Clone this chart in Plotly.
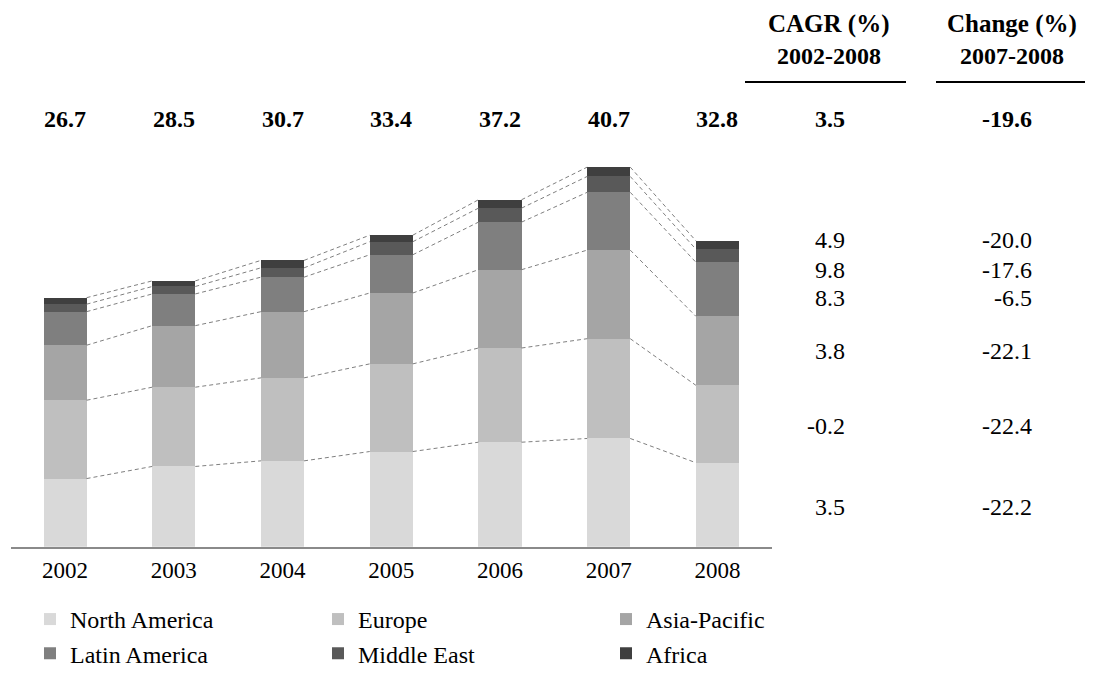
import plotly.graph_objects as go

# ---------------- data ----------------
years = ["2002", "2003", "2004", "2005", "2006", "2007", "2008"]
regions = ["North America", "Europe", "Asia-Pacific", "Latin America", "Middle East", "Africa"]
north_america = [7.3, 8.6, 9.2, 10.2, 11.2, 11.6, 9.0]
europe = [8.4, 8.5, 8.9, 9.4, 10.1, 10.7, 8.3]
asia_pacific = [5.9, 6.6, 7.1, 7.6, 8.4, 9.5, 7.4]
latin_america = [3.6, 3.4, 3.7, 4.1, 5.1, 6.2, 5.8]
middle_east = [0.8, 0.8, 1.0, 1.4, 1.5, 1.7, 1.4]
africa = [0.7, 0.6, 0.8, 0.7, 0.9, 1.0, 0.9]
totals = [26.7, 28.5, 30.7, 33.4, 37.2, 40.7, 32.8]
cagr_by_region = [3.5, -0.2, 3.8, 8.3, 9.8, 4.9]
change_by_region = [-22.2, -22.4, -22.1, -6.5, -17.6, -20.0]
cagr_total = 3.5
change_total = -19.6
header_cagr = ["CAGR (%)", "2002-2008"]
header_change = ["Change (%)", "2007-2008"]

# ---------------- styles ----------------
colors = ["#d9d9d9", "#bfbfbf", "#a5a5a5", "#7f7f7f", "#595959", "#3f3f3f"]
FONT = "Liberation Serif"
OFF = 8                       # page body margin
W, H = 1093 - OFF, 676 - OFF
BASE_PX = 554                 # screen row of the x axis line
PX_PER_UNIT = 9.452
YMAX = 44
X_LEFT, X_RIGHT = 10.7, 771.8
BARGAP = 0.604
label_shift = [-2, -2, 0, -9, -14, 5]   # de-overlap offsets for right-hand labels (px, + = up)


def fx(p):
    return (p - OFF) / W


def fy(p):
    return 1 - (p - OFF) / H


def tfont(size=23):
    return dict(family=FONT, size=size, color="black")


series = [north_america, europe, asia_pacific, latin_america, middle_east, africa]

fig = go.Figure()
for name, vals, col in zip(regions, series, colors):
    fig.add_trace(go.Bar(x=years, y=vals, name=name, marker=dict(color=col, line=dict(width=0))))

# cumulative tops for connectors
cum = []
run = [0.0] * len(years)
for vals in series:
    run = [a + b for a, b in zip(run, vals)]
    cum.append(list(run))

half = (1 - BARGAP) / 2
shapes = []
for level in cum:
    for i in range(len(years) - 1):
        shapes.append(dict(type="line", xref="x", yref="y",
                           x0=i + half, y0=level[i], x1=i + 1 - half, y1=level[i + 1],
                           line=dict(color="#7f7f7f", width=1, dash="4px,3px")))

# header underlines
shapes.append(dict(type="line", xref="paper", yref="paper", x0=fx(745), x1=fx(906),
                   y0=fy(83), y1=fy(83), line=dict(color="black", width=2)))
shapes.append(dict(type="line", xref="paper", yref="paper", x0=fx(936), x1=1,
                   y0=fy(83), y1=fy(83), line=dict(color="black", width=2)))

ann = []
# totals above bars
for i, t in enumerate(totals):
    ann.append(dict(x=i, xref="x", xanchor="center", y=fy(121), yref="paper", yanchor="middle",
                    text=f"<b>{t:.1f}</b>", showarrow=False, font=tfont(24)))
ann.append(dict(x=fx(847), xref="paper", xanchor="right", y=fy(121), yref="paper", yanchor="middle",
                text=f"<b>{cagr_total:.1f}</b>", showarrow=False, font=tfont(24)))
ann.append(dict(x=fx(1034), xref="paper", xanchor="right", y=fy(121), yref="paper", yanchor="middle",
                text=f"<b>{change_total:.1f}</b>", showarrow=False, font=tfont(24)))
# headers
for cx, lines in ((829, header_cagr), (1012, header_change)):
    ann.append(dict(x=fx(cx), xref="paper", xanchor="center", y=fy(24), yref="paper", yanchor="middle",
                    text=f"<b>{lines[0]}</b>", showarrow=False, font=tfont(25)))
    ann.append(dict(x=fx(cx), xref="paper", xanchor="center", y=fy(57), yref="paper", yanchor="middle",
                    text=f"<b>{lines[1]}</b>", showarrow=False, font=tfont(24)))

# right-hand per-region values at 2008 segment midpoints
last = len(years) - 1
prev = 0.0
for k in range(len(regions)):
    mid = (prev + cum[k][last]) / 2
    prev = cum[k][last]
    ann.append(dict(x=fx(847), xref="paper", xanchor="right", y=mid, yref="y", yanchor="middle",
                    yshift=label_shift[k], text=f"{cagr_by_region[k]:.1f}", showarrow=False,
                    font=tfont(24)))
    ann.append(dict(x=fx(1034), xref="paper", xanchor="right", y=mid, yref="y", yanchor="middle",
                    yshift=label_shift[k], text=f"{change_by_region[k]:.1f}", showarrow=False,
                    font=tfont(24)))

fig.update_layout(
    width=W, height=H,
    margin=dict(l=0, r=0, t=0, b=0),
    paper_bgcolor="white", plot_bgcolor="white",
    barmode="stack", bargap=BARGAP,
    font=tfont(23),
    xaxis=dict(type="category", domain=[fx(X_LEFT), fx(X_RIGHT)], range=[-0.5, 6.5],
               showline=True, linecolor="#8a8a8a", linewidth=2, showgrid=False,
               ticks="", ticklabelstandoff=2, tickfont=tfont(23), fixedrange=True),
    yaxis=dict(domain=[fy(BASE_PX), fy(BASE_PX - YMAX * PX_PER_UNIT)], range=[0, YMAX],
               visible=False, showgrid=False, zeroline=False),
    legend=dict(orientation="h", x=fx(30), xanchor="left", y=fy(605), yanchor="top",
                entrywidth=243, entrywidthmode="pixels", traceorder="normal",
                font=tfont(24), bgcolor="rgba(0,0,0,0)"),
    shapes=shapes,
    annotations=ann,
    showlegend=True,
)

fig.write_html("out.html")
